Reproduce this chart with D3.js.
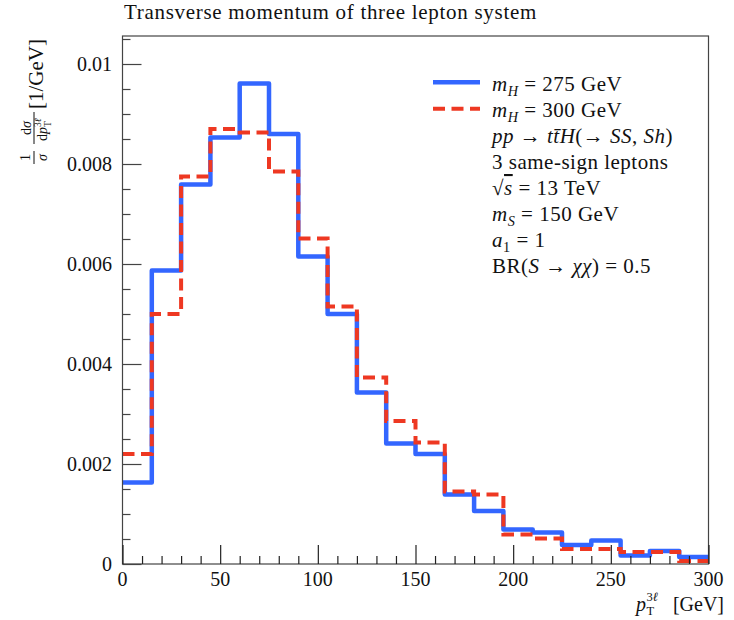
<!DOCTYPE html>
<html>
<head>
<meta charset="utf-8">
<script src="https://cdn.jsdelivr.net/npm/d3@7/dist/d3.min.js"></script>
<style>
  html, body { margin: 0; padding: 0; background: #fff; }
  svg { display: block; }
  text { font-family: "Liberation Serif", "Times New Roman", serif; fill: #111; white-space: pre; }
</style>
</head>
<body>
<svg id="chart" width="734" height="620"></svg>
<script>
// Bin edges of the p_T^{3l} histogram (GeV)
const binEdges = [0, 15, 30, 45, 60, 75, 90, 105, 120, 135, 150, 165, 180, 195, 210, 225, 240, 255, 270, 285, 300];

// Normalised differential distributions, 1/sigma dsigma/dpT [1/GeV]
const mH275 = [0.00163, 0.00587, 0.00759, 0.00853, 0.00961, 0.00860, 0.00615, 0.00500, 0.00343, 0.00241,
               0.00220, 0.00139, 0.00106, 0.00069, 0.00063, 0.00038, 0.00047, 0.00017, 0.00026, 0.00014];
const mH300 = [0.00220, 0.00500, 0.00775, 0.00870, 0.00863, 0.00785, 0.00651, 0.00515, 0.00373, 0.00286,
               0.00243, 0.00145, 0.00139, 0.00059, 0.00051, 0.00030, 0.00030, 0.00024, 0.00024, 0.00006];

const xMajorTicks = [0, 50, 100, 150, 200, 250, 300];
const yMajorTicks = [0, 0.002, 0.004, 0.006, 0.008, 0.01];
const yTickLabels = ["0", "0.002", "0.004", "0.006", "0.008", "0.01"];

const svg = d3.select("#chart");
const frame = { left: 122.5, right: 708.5, top: 36, bottom: 564 };

const x = d3.scaleLinear().domain([0, 300]).range([frame.left, frame.right]);
const y = d3.scaleLinear().domain([0, 0.01056]).range([frame.bottom, frame.top]);

const blue = "#3366ff";
const red = "#ee3822";
const axisColor = "#444";

// Title
svg.append("text")
  .attr("x", 124).attr("y", 19)
  .attr("font-size", 21).attr("letter-spacing", 0.7)
  .text("Transverse momentum of three lepton system");

// Histograms drawn as step lines
const stepLine = d3.line()
  .x(d => x(d[0]))
  .y(d => y(d[1]))
  .curve(d3.curveStepAfter);

function stepPoints(values) {
  const pts = values.map((v, i) => [binEdges[i], v]);
  pts.push([binEdges[binEdges.length - 1], values[values.length - 1]]);
  return pts;
}

const plot = svg.append("g");
plot.append("path")
  .attr("d", stepLine(stepPoints(mH275)))
  .attr("fill", "none").attr("stroke", blue)
  .attr("stroke-width", 4.5).attr("stroke-linejoin", "round");
plot.append("path")
  .attr("d", stepLine(stepPoints(mH300)))
  .attr("fill", "none").attr("stroke", red)
  .attr("stroke-width", 4).attr("stroke-dasharray", "12,6.5");

// Frame
svg.append("rect")
  .attr("x", frame.left).attr("y", frame.top)
  .attr("width", frame.right - frame.left).attr("height", frame.bottom - frame.top)
  .attr("fill", "none").attr("stroke", axisColor).attr("stroke-width", 1.2);

// Y axis ticks (inward)
const yAxis = d3.axisRight(y)
  .tickValues(d3.range(0, 0.01056, 0.0005))
  .tickSize(0).tickFormat("");
const yg = svg.append("g").attr("transform", `translate(${frame.left},0)`).call(yAxis);
yg.select(".domain").remove();
yg.selectAll(".tick line")
  .attr("stroke", axisColor).attr("stroke-width", 1.2)
  .attr("x2", d => yMajorTicks.some(t => Math.abs(t - d) < 1e-9) ? 19 : 8);

svg.append("g").selectAll("text")
  .data(yMajorTicks)
  .join("text")
  .attr("x", 112).attr("y", d => y(d) + 7)
  .attr("text-anchor", "end").attr("font-size", 20)
  .text((d, i) => yTickLabels[i]);

// X axis ticks (inward)
const xAxis = d3.axisTop(x)
  .tickValues(d3.range(0, 301, 10))
  .tickSize(0).tickFormat("");
const xg = svg.append("g").attr("transform", `translate(0,${frame.bottom})`).call(xAxis);
xg.select(".domain").remove();
xg.selectAll(".tick line")
  .attr("stroke", "#222").attr("stroke-width", 1.2)
  .attr("y2", d => xMajorTicks.includes(d) ? -19 : -8);

svg.append("g").selectAll("text")
  .data(xMajorTicks)
  .join("text")
  .attr("x", d => x(d)).attr("y", 586)
  .attr("text-anchor", "middle").attr("font-size", 20)
  .text(d => d);

// Rich text helper: italic, subscript, superscript and overline runs
function rich(sel, px, py, parts, size, extra) {
  const t = sel.append("text").attr("x", px).attr("y", py).attr("font-size", size);
  if (extra) extra(t);
  let shift = 0;
  parts.forEach(p => {
    const target = p.sub ? size * 0.24 : p.sup ? -size * 0.36 : 0;
    const ts = t.append("tspan").text(p.t).attr("dy", target - shift);
    shift = target;
    if (p.sub || p.sup) ts.attr("font-size", size * 0.68);
    if (p.it) ts.attr("font-style", "italic");
    if (p.dx) ts.attr("dx", p.dx);
    if (p.over) ts.attr("text-decoration", "overline");
  });
  return t;
}

// X axis title: p_T^{3l} [GeV], right-aligned under the axis end
const xt = svg.append("g");
xt.append("text").attr("x", 724).attr("y", 611).attr("text-anchor", "end").attr("font-size", 20).text("[GeV]");
xt.append("text").attr("x", 636).attr("y", 611).attr("font-size", 20).attr("font-style", "italic").text("p");
xt.append("text").attr("x", 646.5).attr("y", 615).attr("font-size", 12.5).text("T");
xt.append("text").attr("x", 646.5).attr("y", 601).attr("font-size", 12.5).text("3")
  .append("tspan").attr("font-style", "italic").text("ℓ");

// Y axis title: 1/sigma dsigma/dp_T^{3l} [1/GeV], written bottom to top
const yl = svg.append("g").attr("transform", "translate(34,166) rotate(-90)");
yl.append("text").attr("x", 8.5).attr("y", -4).attr("text-anchor", "middle").attr("font-size", 14).text("1");
yl.append("line").attr("x1", 2).attr("x2", 15).attr("y1", 0).attr("y2", 0).attr("stroke", "#111").attr("stroke-width", 1);
yl.append("text").attr("x", 8.5).attr("y", 12.5).attr("text-anchor", "middle").attr("font-size", 14)
  .attr("font-style", "italic").text("σ");
const num = yl.append("text").attr("x", 38).attr("y", -3).attr("text-anchor", "middle").attr("font-size", 14);
num.append("tspan").text("d");
num.append("tspan").attr("font-style", "italic").text("σ");
yl.append("line").attr("x1", 22).attr("x2", 54).attr("y1", 0).attr("y2", 0).attr("stroke", "#111").attr("stroke-width", 1);
const den = yl.append("text").attr("x", 25).attr("y", 12.5).attr("font-size", 14);
den.append("tspan").text("d");
den.append("tspan").attr("font-style", "italic").text("p");
den.append("tspan").attr("font-size", 9.5).attr("dy", 4).text("T");
den.append("tspan").attr("font-size", 9.5).attr("dy", -9.5).attr("dx", -5.8).text("3");
den.append("tspan").attr("font-size", 9.5).attr("font-style", "italic").text("ℓ");
yl.append("text").attr("x", 57).attr("y", 8.5).attr("font-size", 21).text("[1/GeV]");

// Legend
const legend = svg.append("g");
const legendX = 492;
const rowY = [90.7, 116.7, 143, 169.3, 195, 221, 246.7, 273.3];

legend.append("line").attr("x1", 433).attr("x2", 480).attr("y1", rowY[0] - 8.4).attr("y2", rowY[0] - 8.4)
  .attr("stroke", blue).attr("stroke-width", 4.5);
legend.append("line").attr("x1", 433).attr("x2", 480).attr("y1", rowY[1] - 8).attr("y2", rowY[1] - 8)
  .attr("stroke", red).attr("stroke-width", 4).attr("stroke-dasharray", "12,6.5");

const legendRows = [
  [{ t: "m", it: true }, { t: "H", it: true, sub: true }, { t: " = 275 GeV" }],
  [{ t: "m", it: true }, { t: "H", it: true, sub: true }, { t: " = 300 GeV" }],
  [{ t: "pp", it: true }, { t: " → " }, { t: "t\u0074\u0304H", it: true }, { t: "(→ " }, { t: "SS", it: true }, { t: ", " }, { t: "Sh", it: true }, { t: ")" }],
  [{ t: "3 same-sign leptons" }],
  [{ t: "√" }, { t: "s", it: true, over: true }, { t: " = 13 TeV" }],
  [{ t: "m", it: true }, { t: "S", it: true, sub: true }, { t: " = 150 GeV" }],
  [{ t: "a", it: true }, { t: "1", sub: true }, { t: " = 1" }],
  [{ t: "BR(" }, { t: "S", it: true }, { t: " → " }, { t: "χχ", it: true }, { t: ") = 0.5" }]
];
legendRows.forEach((parts, i) => {
  rich(legend, legendX, rowY[i], parts, 21, t => t.attr("letter-spacing", 0.5));
});
</script>
</body>
</html>
